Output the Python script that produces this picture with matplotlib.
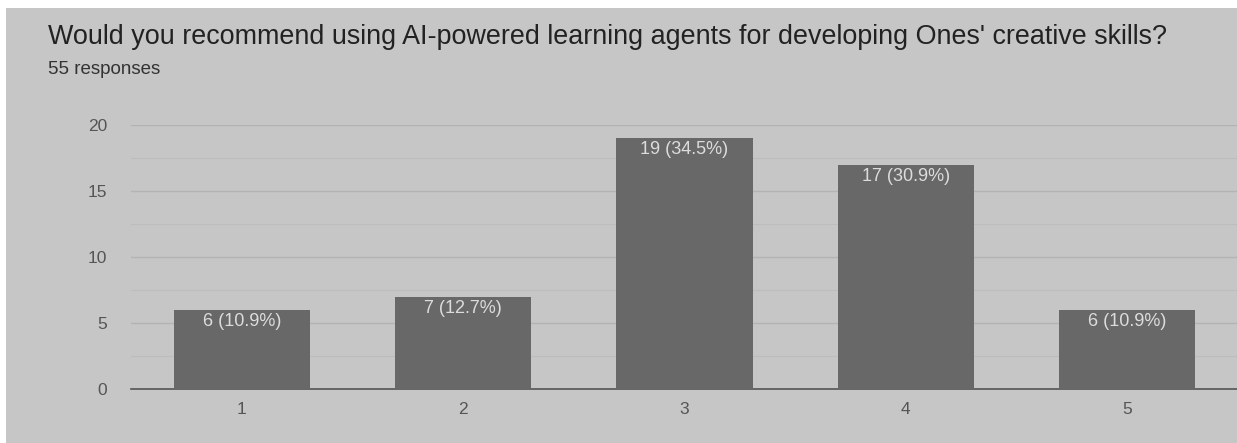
import matplotlib
matplotlib.use("Agg")
import matplotlib.pyplot as plt
from matplotlib.ticker import MultipleLocator

categories = ["1", "2", "3", "4", "5"]
counts = [6, 7, 19, 17, 6]
labels = ["6 (10.9%)", "7 (12.7%)", "19 (34.5%)", "17 (30.9%)", "6 (10.9%)"]
title = "Would you recommend using AI-powered learning agents for developing Ones' creative skills?"
subtitle = "55 responses"

bg = "#c6c6c6"
fig = plt.figure(figsize=(12.37, 4.43), dpi=100)
fig.patch.set_facecolor("white")
bgax = fig.add_axes([6/1237, 0, 1 - 6/1237, 1 - 8/443], zorder=-5)
bgax.set_facecolor(bg)
bgax.set_xticks([]); bgax.set_yticks([])
for s in bgax.spines.values():
    s.set_visible(False)

ax = fig.add_axes([131/1237, 1 - 389/443, 1107/1237, 264/443], zorder=1)
ax.set_facecolor(bg)
x = list(range(1, len(categories) + 1))
bars = ax.bar(x, counts, width=0.615, color="#686868", zorder=3)
for xi, c, lab in zip(x, counts, labels):
    ax.text(xi, c - 0.25, lab, ha="center", va="top", color="#dcdcdc",
            fontsize=13, family="Liberation Sans", zorder=4)
ax.set_xlim(0.5, 5.5)
ax.set_ylim(0, 20)
ax.set_xticks(x)
ax.set_xticklabels(categories)
ax.yaxis.set_major_locator(MultipleLocator(5))
ax.yaxis.set_minor_locator(MultipleLocator(2.5))
ax.grid(axis="y", which="major", color="#b3b3b3", linewidth=1, zorder=1)
ax.grid(axis="y", which="minor", color="#bdbdbd", linewidth=0.8, zorder=1)
for s in ["top", "right", "left"]:
    ax.spines[s].set_visible(False)
ax.spines["bottom"].set_color("#555555")
ax.spines["bottom"].set_linewidth(1.2)
ax.tick_params(axis="both", which="both", length=0, labelsize=12.5, labelcolor="#555555")
ax.tick_params(axis="x", pad=9)
ax.tick_params(axis="y", pad=17)
for t in ax.get_xticklabels() + ax.get_yticklabels():
    t.set_family("Liberation Sans")
fig.text(48/1237, 1 - 37/443, title, fontsize=19.4, color="#222222", va="center",
         family="Liberation Sans")
fig.text(48/1237, 1 - 70/443, subtitle, fontsize=13.5, color="#333333", va="center",
         family="Liberation Sans")
fig.savefig("out.png", dpi=100, facecolor=fig.get_facecolor())
